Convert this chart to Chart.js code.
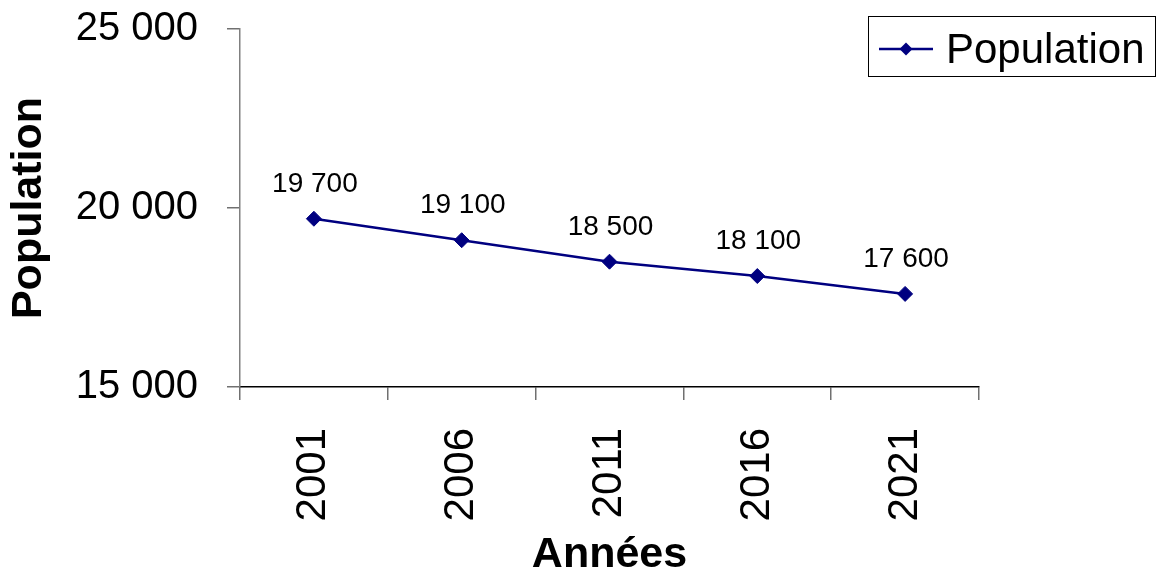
<!DOCTYPE html>
<html>
<head>
<meta charset="utf-8">
<script src="https://cdn.jsdelivr.net/npm/chart.js@4.4.1/dist/chart.umd.min.js"></script>
<style>
  html, body { margin: 0; padding: 0; background: #ffffff; }
  #wrap { width: 1159px; height: 577px; }
</style>
</head>
<body>
<div id="wrap"><canvas id="c" width="1159" height="577"></canvas></div>
<script>
// Population by census year
const years = ['2001', '2006', '2011', '2016', '2021'];
const population = [19700, 19100, 18500, 18100, 17600];
const yTickValues = [15000, 20000, 25000];
const seriesName = 'Population';
const xAxisTitle = 'Années';
const yAxisTitle = 'Population';

const FONT = '"Liberation Sans", Arial, sans-serif';
const NAVY = '#000080';

// thousands with a space separator, e.g. 19 700
function fmt(v) {
  return String(v).replace(/\B(?=(\d{3})+(?!\d))/g, ' ');
}

// value labels above each point
const valueLabels = {
  id: 'valueLabels',
  afterDatasetsDraw(chart) {
    const ctx = chart.ctx;
    const meta = chart.getDatasetMeta(0);
    const data = chart.data.datasets[0].data;
    ctx.save();
    ctx.font = '28px ' + FONT;
    ctx.fillStyle = '#000000';
    ctx.textAlign = 'center';
    ctx.textBaseline = 'alphabetic';
    meta.data.forEach((pt, i) => {
      ctx.fillText(fmt(data[i]), pt.x + 1, pt.y - 27);
    });
    ctx.restore();
  }
};

// boxed legend in the top-right corner
const boxLegend = {
  id: 'boxLegend',
  afterDraw(chart) {
    const ctx = chart.ctx;
    const ds = chart.data.datasets[0];
    const bx = 868, by = 16, bw = 287, bh = 60;
    const cy = 49;
    ctx.save();
    ctx.strokeStyle = '#000000';
    ctx.lineWidth = 1;
    ctx.strokeRect(bx + 0.5, by + 0.5, bw, bh);
    ctx.strokeStyle = ds.borderColor;
    ctx.lineWidth = ds.borderWidth;
    ctx.beginPath();
    ctx.moveTo(879, cy);
    ctx.lineTo(933, cy);
    ctx.stroke();
    const r = 6.5;
    ctx.fillStyle = ds.pointBackgroundColor;
    ctx.beginPath();
    ctx.moveTo(906 - r, cy);
    ctx.lineTo(906, cy - r);
    ctx.lineTo(906 + r, cy);
    ctx.lineTo(906, cy + r);
    ctx.closePath();
    ctx.fill();
    ctx.fillStyle = '#000000';
    ctx.font = '42px ' + FONT;
    ctx.textAlign = 'left';
    ctx.textBaseline = 'alphabetic';
    ctx.fillText(ds.label, 946, 63);
    ctx.restore();
  }
};

new Chart(document.getElementById('c'), {
  type: 'line',
  data: {
    labels: years,
    datasets: [{
      label: seriesName,
      data: population,
      borderColor: NAVY,
      borderWidth: 2.5,
      backgroundColor: NAVY,
      pointStyle: 'rectRot',
      pointRadius: 7.5,
      pointHoverRadius: 7.5,
      pointBackgroundColor: NAVY,
      pointBorderColor: NAVY,
      pointBorderWidth: 1,
      tension: 0,
      fill: false
    }]
  },
  options: {
    responsive: false,
    animation: false,
    events: [],
    layout: { padding: { left: 0, right: 180, top: 29, bottom: 0 } },
    plugins: {
      legend: { display: false },
      tooltip: { enabled: false }
    },
    scales: {
      x: {
        type: 'category',
        offset: true,
        afterFit(scale) {
          scale.height = 190;
          scale.paddingLeft = 0; scale.paddingRight = 0;
        },
        border: { display: true, color: '#000000', width: 1.5 },
        grid: {
          display: true,
          offset: true,
          drawOnChartArea: false,
          drawTicks: true,
          tickLength: 13,
          tickColor: '#707070',
          lineWidth: 1.5
        },
        ticks: {
          minRotation: 90,
          maxRotation: 90,
          padding: 28,
          color: '#000000',
          font: { family: FONT, size: 42 }
        },
        title: {
          display: true,
          text: xAxisTitle,
          color: '#000000',
          font: { family: FONT, size: 43, weight: 'bold', lineHeight: 1 },
          padding: { top: 0, bottom: 0 }
        }
      },
      y: {
        min: yTickValues[0],
        max: yTickValues[yTickValues.length - 1],
        afterFit(scale) {
          scale.width = 240;
          scale.paddingTop = 0; scale.paddingBottom = 0;
        },
        afterBuildTicks(scale) { scale.ticks = yTickValues.map(v => ({ value: v })); },
        border: { display: true, color: '#808080', width: 1.5 },
        grid: {
          display: true,
          drawOnChartArea: false,
          drawTicks: true,
          tickLength: 13,
          tickColor: '#707070',
          lineWidth: 1.5
        },
        ticks: {
          padding: 29,
          color: '#000000',
          font: { family: FONT, size: 40 },
          callback: v => fmt(v)
        },
        title: {
          display: true,
          text: yAxisTitle,
          color: '#000000',
          font: { family: FONT, size: 43, weight: 'bold', lineHeight: 1 },
          padding: { top: 8, bottom: 0 }
        }
      }
    }
  },
  plugins: [valueLabels, boxLegend]
});
</script>
</body>
</html>
